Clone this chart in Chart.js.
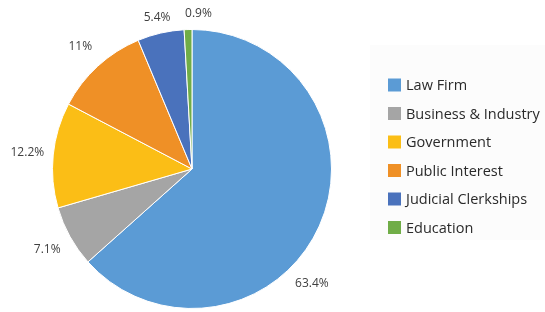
<!DOCTYPE html>
<html>
<head>
<meta charset="utf-8">
<script src="https://cdn.jsdelivr.net/npm/chart.js@4.4.0/dist/chart.umd.min.js"></script>
<style>
  html, body { margin: 0; padding: 0; background: #fff; }
  #wrap { width: 545px; height: 312px; position: relative; }
</style>
</head>
<body>
<div id="wrap"><canvas id="grafico"></canvas></div>
<script>
const labels = ["Law Firm", "Business & Industry", "Government", "Public Interest", "Judicial Clerkships", "Education"]
const valores = [63.4, 7.1, 12.2, 11, 5.4, 0.9]
const textos = ["63.4%", "7.1%", "12.2%", "11%", "5.4%", "0.9%"]
const cores = ["#5B9BD5", "#A5A5A5", "#FBBE16", "#EF9026", "#4A72BC", "#70AD47"]

// percentage labels outside the pie (Excel-ish "best fit" nudges)
const rotulos = {
  id: 'rotulos',
  afterDatasetsDraw(chart) {
    const {ctx} = chart
    const arcs = chart.getDatasetMeta(0).data
    const ajuste = {0: 0.34, 5: 0.07}
    ctx.save()
    ctx.font = '12px "Open Sans"'
    ctx.fillStyle = '#404040'
    ctx.textAlign = 'center'
    ctx.textBaseline = 'middle'
    arcs.forEach((arc, i) => {
      const p = arc.getProps(['x', 'y', 'startAngle', 'endAngle', 'outerRadius'], true)
      const ang = (p.startAngle + p.endAngle) / 2 + (ajuste[i] || 0)
      const d = p.outerRadius + (i >= 4 ? 16 : 26)
      ctx.fillText(textos[i], p.x + Math.cos(ang) * d, p.y + Math.sin(ang) * d)
    })
    ctx.restore()
  }
}

// legend drawn on the right
const legenda = {
  id: 'legenda',
  afterDraw(chart) {
    const {ctx} = chart
    ctx.save()
    ctx.fillStyle = '#fcfcfc'
    ctx.fillRect(370, 45, 175, 195)
    ctx.font = '14.5px "Open Sans"'
    ctx.textBaseline = 'middle'
    chart.data.labels.forEach((lab, i) => {
      const y = 85 + i * 28.5
      ctx.fillStyle = cores[i]
      ctx.fillRect(388, y - 6.5, 13, 13)
      ctx.fillStyle = '#2a2a2a'
      ctx.fillText(lab, 406, y + 1)
    })
    ctx.restore()
  }
}

const ctx = document.getElementById('grafico')
let grafico = new Chart(ctx, {
  type: 'pie',
  data: {
    labels: labels,
    datasets: [{
      data: valores,
      backgroundColor: cores,
      borderColor: '#fff',
      borderWidth: 1
    }]
  },
  options: {
    responsive: true,
    maintainAspectRatio: false,
    animation: false,
    layout: { padding: { left: 52, top: 29, right: 213, bottom: 3 } },
    plugins: {
      legend: { display: false },
      tooltip: { enabled: false }
    }
  },
  plugins: [rotulos, legenda]
})
</script>
</body>
</html>
